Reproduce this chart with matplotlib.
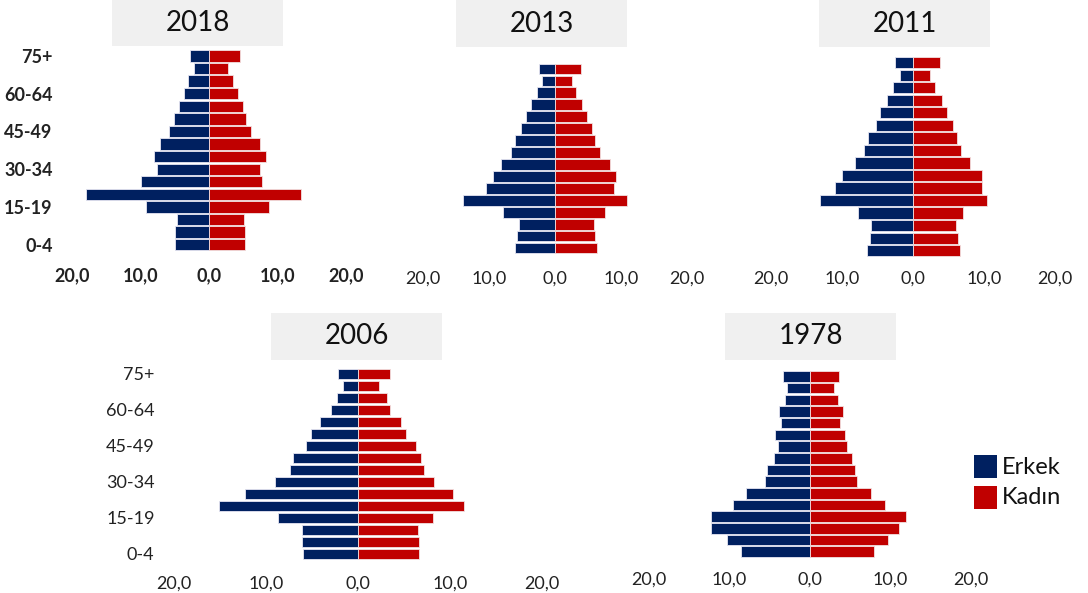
import matplotlib.pyplot as plt
from matplotlib.patches import Rectangle

plt.rcParams["font.family"] = ["Lato", "DejaVu Sans"]

W, H = 1088, 593
NAVY = "#002060"
RED = "#C00000"

age_groups = ["0-4", "5-9", "10-14", "15-19", "20-24", "25-29", "30-34", "35-39",
              "40-44", "45-49", "50-54", "55-59", "60-64", "65-69", "70-74", "75+"]
x_ticks = [-20, -10, 0, 10, 20]
x_tick_labels = ["20,0", "10,0", "0,0", "10,0", "20,0"]

# percentages, youngest group first
male_2018 = [5.0, 4.9, 4.7, 9.2, 18.0, 9.9, 7.6, 8.0, 7.1, 5.8, 5.1, 4.4, 3.7, 3.0, 2.2, 2.8]
female_2018 = [5.3, 5.3, 5.1, 8.7, 13.5, 7.7, 7.5, 8.3, 7.5, 6.1, 5.4, 4.9, 4.2, 3.5, 2.8, 4.5]

male_2013 = [6.1, 5.7, 5.4, 7.9, 13.9, 10.4, 9.4, 8.25, 6.7, 6.0, 5.15, 4.4, 3.65, 2.75, 1.9, 2.5]
female_2013 = [6.3, 6.05, 5.9, 7.5, 10.9, 9.0, 9.3, 8.3, 6.8, 6.05, 5.6, 4.85, 4.1, 3.25, 2.5, 4.0]

male_2011 = [6.5, 6.1, 5.85, 7.7, 13.1, 11.0, 10.05, 8.15, 6.85, 6.35, 5.2, 4.6, 3.7, 2.75, 1.9, 2.5]
female_2011 = [6.6, 6.3, 6.1, 7.05, 10.4, 9.7, 9.7, 8.0, 6.7, 6.25, 5.65, 4.75, 4.1, 3.1, 2.45, 3.85]

male_2006 = [5.95, 6.05, 6.05, 8.7, 15.1, 12.3, 9.0, 7.4, 7.1, 5.65, 5.1, 4.1, 2.9, 2.25, 1.65, 2.15]
female_2006 = [6.6, 6.65, 6.5, 8.15, 11.55, 10.3, 8.3, 7.15, 6.9, 6.3, 5.25, 4.7, 3.5, 3.1, 2.25, 3.5]

male_1978 = [8.6, 10.35, 12.35, 12.25, 9.6, 7.9, 5.65, 5.35, 4.5, 4.0, 4.35, 3.65, 3.9, 3.05, 2.8, 3.3]
female_1978 = [7.9, 9.65, 11.1, 11.95, 9.3, 7.6, 5.85, 5.6, 5.2, 4.6, 4.35, 3.7, 4.1, 3.45, 2.95, 3.55]

# year, male, female, axes box px (left, top, right, bottom), tick label centre y,
# title box px, show age labels, bold ticks
panels = [
    ("2018", male_2018, female_2018, (72, 49.7, 346, 251), 273, (112, 0, 283, 46), True, True),
    ("2013", male_2013, female_2013, (423, 63, 687, 254), 277, (456, 0, 627, 47), False, False),
    ("2011", male_2011, female_2011, (771, 56.4, 1055, 257), 277, (819, 0, 990, 47), False, False),
    ("2006", male_2006, female_2006, (174, 368, 542, 560), 582, (271, 313, 442, 360), True, False),
    ("1978", male_1978, female_1978, (649, 370.7, 971, 557.5), 578, (725, 313, 896, 360), False, False),
]

fig = plt.figure(figsize=(W / 100, H / 100), dpi=100)


def fx(x):
    return x / W


def fy(y):
    return 1 - y / H


for year, male, female, box, label_y, tbox, show_ages, bold in panels:
    l, t, r, b = box
    ax = fig.add_axes([fx(l), fy(b), (r - l) / W, (b - t) / H])
    pos = range(len(age_groups))
    ax.barh(pos, [-v for v in male], height=0.9, color=NAVY,
            edgecolor="#e6e6f2", linewidth=0.6)
    ax.barh(pos, female, height=0.9, color=RED,
            edgecolor="#f2e0e0", linewidth=0.6)
    ax.set_xlim(-20, 20)
    ax.set_ylim(-0.5, 15.5)
    weight = "bold" if bold else "normal"
    ax.set_xticks(x_ticks)
    ax.set_xticklabels(x_tick_labels, fontsize=13, weight=weight, color="#222222")
    ax.tick_params(axis="x", length=0, pad=(label_y - b - 6) * 0.72)
    if show_ages:
        ax.set_yticks(list(range(0, 16, 3)))
        ax.set_yticklabels(age_groups[::3], fontsize=13, weight=weight, color="#222222")
        ax.tick_params(axis="y", length=0, pad=14)
    else:
        ax.set_yticks([])
    for s in ax.spines.values():
        s.set_visible(False)
    ax.patch.set_alpha(0)

    tl, tt, tr, tb = tbox
    fig.patches.append(Rectangle((fx(tl), fy(tb)), (tr - tl) / W, (tb - tt) / H,
                                 transform=fig.transFigure, facecolor="#f0f0f0",
                                 edgecolor="none", zorder=0))
    fig.text(fx((tl + tr) / 2), fy((tt + tb) / 2), year, ha="center", va="center",
             fontsize=20, color="#111111")

# legend
for label, color, ytop in [("Erkek", NAVY, 455), ("Kadın", RED, 486)]:
    fig.patches.append(Rectangle((fx(974), fy(ytop + 23)), 23 / W, 23 / H,
                                 transform=fig.transFigure, facecolor=color,
                                 edgecolor="none"))
    fig.text(fx(1002), fy(ytop + 12), label, ha="left", va="center",
             fontsize=17, color="#111111")

fig.savefig("out.png", dpi=100)
